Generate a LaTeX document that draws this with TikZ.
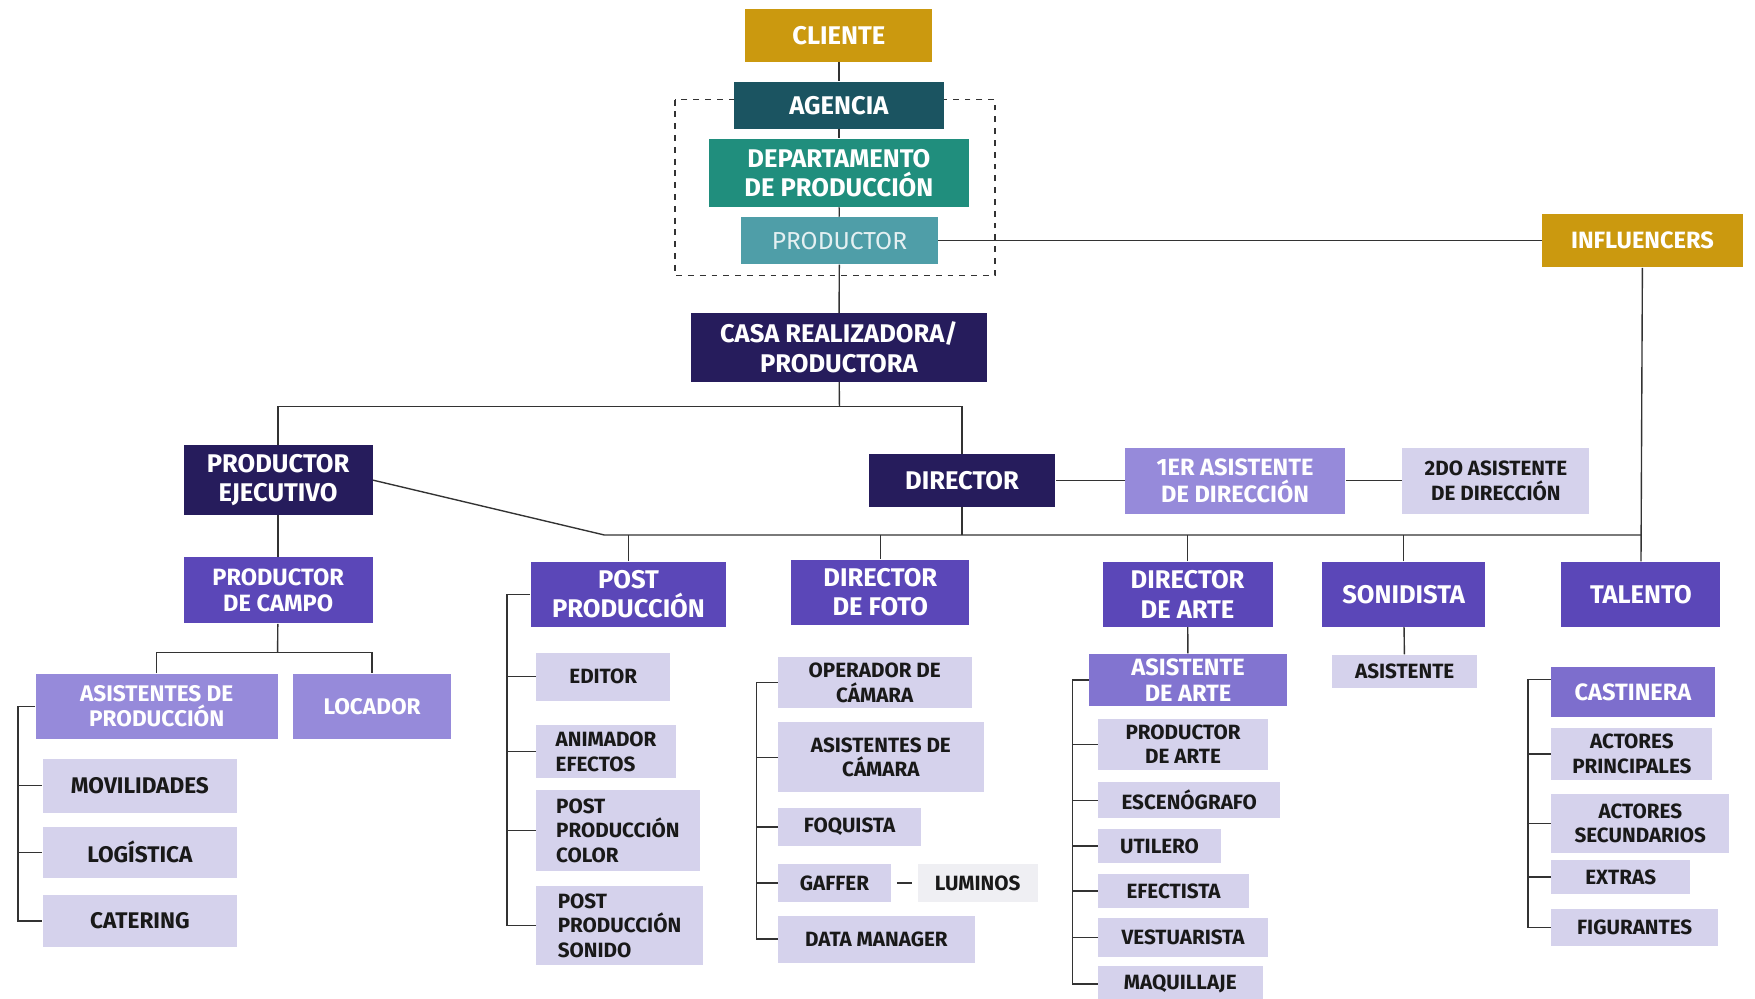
\documentclass[tikz,border=0pt]{standalone}
\usepackage{fontspec}
\setmainfont{Fira Sans}
\usepackage{tikz}
\usepackage{xcolor}
\usetikzlibrary{positioning}

\definecolor{oro}{RGB}{203,153,15}
\definecolor{agenciac}{RGB}{27,84,97}
\definecolor{deptoc}{RGB}{32,142,125}
\definecolor{teal}{RGB}{79,158,168}
\definecolor{noche}{RGB}{38,28,92}
\definecolor{morado}{RGB}{91,71,184}
\definecolor{lila}{RGB}{150,138,218}
\definecolor{lilaosc}{RGB}{125,110,205}
\definecolor{lavanda}{RGB}{213,210,236}
\definecolor{humo}{RGB}{239,239,243}
\definecolor{linea}{RGB}{51,51,51}

\tikzset{
  caja/.style={inner sep=0pt, align=center, text=white, font=\bfseries\fontsize{13}{15}\selectfont},
  dorada/.style={caja, fill=oro},
  oscura/.style={caja, fill=noche},
  media/.style={caja, fill=morado},
  clara/.style={caja, fill=lila},
  hoja/.style={caja, fill=lavanda, text=black!90, font=\bfseries\fontsize{10.5}{12.5}\selectfont},
  enlace/.style={draw=linea, line width=0.7pt}
}

\begin{document}
\begin{tikzpicture}[x=0.02cm, y=-0.02cm]
	\useasboundingbox (0,0) rectangle (1568,892);
	\draw [linea, dashed, line width=0.6pt] (603,89) rectangle (889,246);
	
	% cabecera
	\node [dorada, minimum width=3.34cm, minimum height=0.94cm] (cliente) at (749.5,31.5) {CLIENTE};
	\node [caja, fill=agenciac, minimum width=3.74cm, minimum height=0.84cm] (agencia) at (749.5,94) {AGENCIA};
	\node [caja, fill=deptoc, minimum width=4.66cm, minimum height=1.22cm] (depto) at (749.5,154.5) {DEPARTAMENTO\\DE PRODUCCIÓN};
	\node [caja, fill=teal, text=white!85!teal, font=\fontsize{12.5}{15}\selectfont, minimum width=3.52cm, minimum height=0.84cm] (productor) at (750,215) {PRODUCTOR};
	\node [dorada, font=\bfseries\fontsize{12}{14}\selectfont, minimum width=3.58cm, minimum height=0.96cm] (influ) at (1467.5,215) {INFLUENCERS};
	\node [oscura, minimum width=5.3cm, minimum height=1.22cm] (casa) at (749.5,310.5) {CASA REALIZADORA/\\PRODUCTORA};
	
	% segundo nivel
	\node [oscura, minimum width=3.38cm, minimum height=1.24cm] (ejec) at (248.5,429) {PRODUCTOR\\EJECUTIVO};
	\node [oscura, minimum width=3.34cm, minimum height=0.94cm] (director) at (859.5,429.5) {DIRECTOR};
	\node [clara, font=\bfseries\fontsize{12}{13.5}\selectfont, minimum width=3.94cm, minimum height=1.18cm] (primer) at (1103.5,429.5) {1ER ASISTENTE\\DE DIRECCIÓN};
	\node [hoja, minimum width=3.34cm, minimum height=1.18cm] (segundo) at (1336.5,429.5) {2DO ASISTENTE\\DE DIRECCIÓN};
	
	% areas
	\node [media, minimum width=3.5cm, minimum height=1.16cm] (post) at (561.5,531) {POST\\PRODUCCIÓN};
	\node [media, minimum width=3.18cm, minimum height=1.16cm] (foto) at (786.5,529) {DIRECTOR\\DE FOTO};
	\node [media, minimum width=3.04cm, minimum height=1.16cm] (arte) at (1061,531) {DIRECTOR\\DE ARTE};
	\node [media, minimum width=2.92cm, minimum height=1.16cm] (sonido) at (1254,531) {SONIDISTA};
	\node [media, minimum width=2.84cm, minimum height=1.16cm] (talento) at (1466,531) {TALENTO};
	\node [media, font=\bfseries\fontsize{12}{13.5}\selectfont, minimum width=3.38cm, minimum height=1.18cm] (campo) at (248.5,527.5) {PRODUCTOR\\DE CAMPO};
	
	% produccion de campo
	\node [clara, font=\bfseries\fontsize{11.5}{13}\selectfont, minimum width=4.32cm, minimum height=1.16cm] (asprod) at (140,631) {ASISTENTES DE\\PRODUCCIÓN};
	\node [clara, font=\bfseries\fontsize{11.5}{13}\selectfont, minimum width=2.82cm, minimum height=1.16cm] (locador) at (332.5,631) {LOCADOR};
	\node [hoja, font=\bfseries\fontsize{11.5}{13}\selectfont, minimum width=3.48cm, minimum height=0.96cm] (movil) at (125,702) {MOVILIDADES};
	\node [hoja, font=\bfseries\fontsize{11.5}{13}\selectfont, minimum width=3.48cm, minimum height=0.9cm] (logis) at (125,761.5) {LOGÍSTICA};
	\node [hoja, font=\bfseries\fontsize{11.5}{13}\selectfont, minimum width=3.48cm, minimum height=0.92cm] (cater) at (125,823) {CATERING};
	
	% post produccion
	\node [hoja, minimum width=2.4cm, minimum height=0.86cm] (editor) at (539,604.5) {EDITOR};
	\node [hoja, align=left, minimum width=2.5cm, minimum height=0.94cm] (anim) at (541.5,671.5) {ANIMADOR\\EFECTOS};
	\node [hoja, align=left, minimum width=2.92cm, minimum height=1.44cm] (ppcolor) at (552,742) {POST\\PRODUCCIÓN\\COLOR};
	\node [hoja, align=left, minimum width=2.98cm, minimum height=1.4cm] (ppsonido) at (553.5,827) {POST\\PRODUCCIÓN\\SONIDO};
	
	% foto
	\node [hoja, minimum width=3.46cm, minimum height=0.92cm] (operador) at (781.5,610) {OPERADOR DE\\CÁMARA};
	\node [hoja, minimum width=3.68cm, minimum height=1.26cm] (ascam) at (787,676.5) {ASISTENTES DE\\CÁMARA};
	\node [hoja, minimum width=2.56cm, minimum height=0.68cm] (foquista) at (759,739) {FOQUISTA};
	\node [hoja, minimum width=2.02cm, minimum height=0.68cm] (gaffer) at (745.5,789) {GAFFER};
	\node [hoja, fill=humo, minimum width=2.14cm, minimum height=0.68cm] (luminos) at (873.5,789) {LUMINOS};
	\node [hoja, minimum width=3.52cm, minimum height=0.84cm] (dataman) at (783,839) {DATA MANAGER};
	
	% arte
	\node [clara, fill=lilaosc!80!lila, font=\bfseries\fontsize{12}{13}\selectfont, minimum width=3.54cm, minimum height=0.94cm] (asarte) at (1061.5,607.5) {ASISTENTE\\DE ARTE};
	\node [hoja, minimum width=3.04cm, minimum height=0.92cm] (prodarte) at (1057,665) {PRODUCTOR\\DE ARTE};
	\node [hoja, minimum width=3.26cm, minimum height=0.64cm] (esceno) at (1062.5,715) {ESCENÓGRAFO};
	\node [hoja, minimum width=2.2cm, minimum height=0.6cm] (utilero) at (1036,756) {UTILERO};
	\node [hoja, minimum width=2.7cm, minimum height=0.6cm] (efect) at (1048.5,796) {EFECTISTA};
	\node [hoja, minimum width=3.04cm, minimum height=0.7cm] (vestu) at (1057,837.5) {VESTUARISTA};
	\node [hoja, minimum width=2.94cm, minimum height=0.64cm] (maqui) at (1054.5,879) {MAQUILLAJE};
	
	% sonido
	\node [hoja, minimum width=2.6cm, minimum height=0.6cm] (asist) at (1255,600) {ASISTENTE};
	
	% talento
	\node [clara, fill=lilaosc, font=\bfseries\fontsize{12}{13}\selectfont, minimum width=2.92cm, minimum height=0.9cm] (casting) at (1459,618.5) {CASTINERA};
	\node [hoja, minimum width=2.88cm, minimum height=0.94cm] (actprin) at (1458,673.5) {ACTORES\\PRINCIPALES};
	\node [hoja, minimum width=3.18cm, minimum height=1.06cm] (actsec) at (1465.5,735.5) {ACTORES\\SECUNDARIOS};
	\node [hoja, minimum width=2.48cm, minimum height=0.62cm] (extras) at (1448,783.5) {EXTRAS};
	\node [hoja, minimum width=2.98cm, minimum height=0.66cm] (figur) at (1460.5,828.5) {FIGURANTES};
	
	% conexiones
	\coordinate (bus1) at (750,363);
	\coordinate (bus2) at (540,478);
	\coordinate (bus3) at (248,583);
	\draw [enlace] (cliente) -- (agencia);
	\draw [enlace] (agencia) -- (depto);
	\draw [enlace] (depto) -- (productor);
	\draw [enlace] (productor) -- (casa);
	\draw [enlace] (productor) -- (influ);
	\draw [enlace] (influ) -- (talento);
	\draw [enlace] (casa) -- (bus1);
	\draw [enlace] (ejec.north) |- (bus1) -| (director.north);
	\draw [enlace] (ejec.east) -- (bus2) -- (bus2 -| talento.north);
	\draw [enlace] (director) -- (director.south |- bus2);
	\foreach \n in {post,foto,arte,sonido}
		\draw [enlace] (\n.north) -- (\n.north |- bus2);
	\draw [enlace] (director) -- (primer);
	\draw [enlace] (primer) -- (segundo);
	\draw [enlace] (ejec) -- (campo);
	\draw [enlace] (campo) -- (bus3);
	\draw [enlace] (asprod.north) |- (bus3) -| (locador.north);
	\draw [enlace] (arte) -- (asarte);
	\draw [enlace] (sonido) -- (asist);
	\draw [enlace, shorten <=0.1cm, shorten >=0.1cm] (gaffer) -- (luminos);
	
	% corchetes
	\coordinate (brA) at (16,631);
	\draw [enlace] (asprod.west) -- (brA) |- (cater.west);
	\foreach \n in {movil,logis}
		\draw [enlace] (\n.west) -- (\n.west -| brA);
	\coordinate (brP) at (453,531);
	\draw [enlace] (post.west) -- (brP) |- (ppsonido.west);
	\foreach \n in {editor,anim,ppcolor}
		\draw [enlace] (\n.west) -- (\n.west -| brP);
	\coordinate (brF) at (676,610);
	\draw [enlace] (operador.west) -- (brF) |- (dataman.west);
	\foreach \n in {ascam,foquista,gaffer}
		\draw [enlace] (\n.west) -- (\n.west -| brF);
	\coordinate (brR) at (958,607.5);
	\draw [enlace] (asarte.west) -- (brR) |- (maqui.west);
	\foreach \n in {prodarte,esceno,utilero,efect,vestu}
		\draw [enlace] (\n.west) -- (\n.west -| brR);
	\coordinate (brT) at (1365,607);
	\draw [enlace] (casting.west |- brT) -- (brT) |- (figur.west);
	\foreach \n in {actprin,actsec,extras}
		\draw [enlace] (\n.west) -- (\n.west -| brT);
\end{tikzpicture}
\end{document}
